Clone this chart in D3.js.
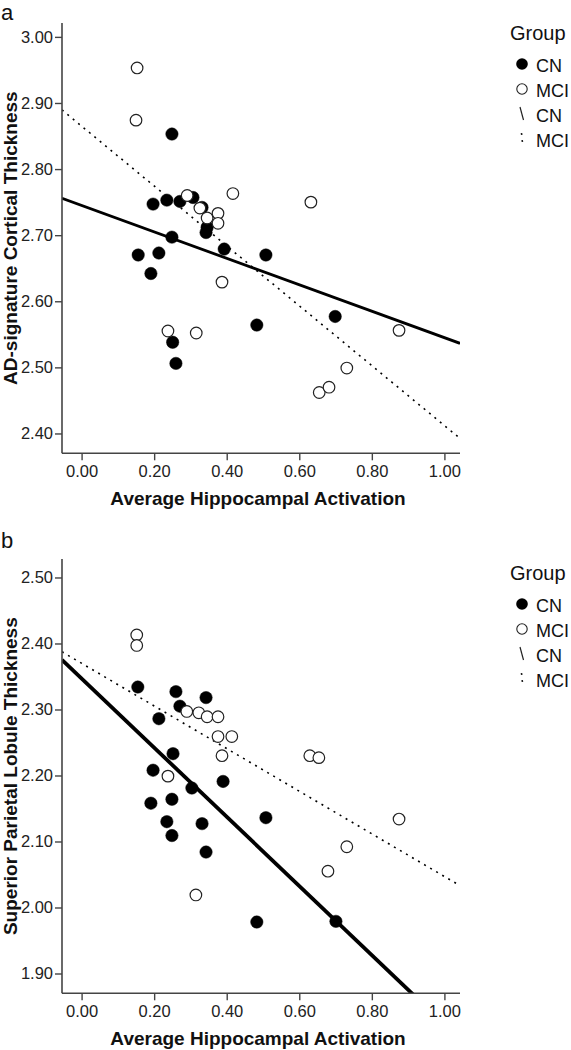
<!DOCTYPE html>
<html>
<head>
<meta charset="utf-8">
<script src="https://cdn.jsdelivr.net/npm/d3@7"></script>
<style>
  html, body { margin: 0; padding: 0; background: #fff; }
  svg { display: block; font-family: Arial, "Liberation Sans", Helvetica, sans-serif; }
</style>
</head>
<body>
<svg id="chart" width="571" height="1050"></svg>
<script>
// ---------- DATA ----------
const groups = ["CN", "MCI"];
const xTicks = [0.00, 0.20, 0.40, 0.60, 0.80, 1.00];
const xLabel = "Average Hippocampal Activation";
const legendTitle = "Group";
const legendItems = ["CN", "MCI", "CN", "MCI"];

// Panel a: AD-signature Cortical Thickness
const aTicks = [2.40, 2.50, 2.60, 2.70, 2.80, 2.90, 3.00];
const aCN_x = [0.249, 0.197, 0.235, 0.271, 0.307, 0.332, 0.346, 0.343, 0.249, 0.393, 0.156, 0.213, 0.508, 0.191, 0.251, 0.260, 0.483, 0.699];
const aCN_y = [2.853, 2.747, 2.753, 2.751, 2.757, 2.742, 2.712, 2.704, 2.697, 2.679, 2.670, 2.673, 2.670, 2.642, 2.538, 2.506, 2.564, 2.577];
const aMCI_x = [0.153, 0.150, 0.291, 0.326, 0.346, 0.376, 0.376, 0.417, 0.632, 0.387, 0.238, 0.316, 0.875, 0.731, 0.655, 0.682];
const aMCI_y = [2.953, 2.874, 2.760, 2.741, 2.726, 2.733, 2.718, 2.763, 2.750, 2.629, 2.555, 2.552, 2.556, 2.499, 2.462, 2.470];
const aFit_intercept = [2.745, 2.865]; // CN, MCI
const aFit_slope = [-0.200, -0.453];

// Panel b: Superior Parietal Lobule Thickness
const bTicks = [1.90, 2.00, 2.10, 2.20, 2.30, 2.40, 2.50];
const bCN_x = [0.155, 0.260, 0.271, 0.343, 0.213, 0.252, 0.197, 0.304, 0.390, 0.191, 0.249, 0.508, 0.235, 0.332, 0.249, 0.343, 0.483, 0.701];
const bCN_y = [2.334, 2.327, 2.305, 2.318, 2.286, 2.233, 2.208, 2.181, 2.191, 2.158, 2.164, 2.136, 2.130, 2.127, 2.109, 2.084, 1.978, 1.979];
const bMCI_x = [0.152, 0.152, 0.290, 0.323, 0.346, 0.376, 0.376, 0.414, 0.387, 0.629, 0.654, 0.238, 0.315, 0.875, 0.731, 0.679];
const bMCI_y = [2.413, 2.397, 2.297, 2.295, 2.289, 2.289, 2.259, 2.259, 2.230, 2.230, 2.227, 2.199, 2.019, 2.134, 2.092, 2.055];
const bFit_intercept = [2.347, 2.370];
const bFit_slope = [-0.524, -0.323];

// ---------- DRAW ----------
const svg = d3.select("#chart");
const axisColor = "#444";

function drawPanel(p) {
  const g = svg.append("g");
  const left = 62, right = 460, plotTop = p.plotTop, plotBottom = p.plotBottom;
  const x = d3.scaleLinear().domain([-0.054, 1.043]).range([left, right]);
  const y = d3.scaleLinear().domain(p.yDomain).range([plotBottom, plotTop]);

  // panel letter
  g.append("text").attr("x", 1).attr("y", p.letterY).attr("font-size", 22).attr("fill", "#111").text(p.letter);

  const clipId = "clip" + p.letter;
  g.append("clipPath").attr("id", clipId).append("rect")
    .attr("x", left).attr("y", plotTop).attr("width", right - left).attr("height", plotBottom - plotTop);

  // fit lines
  const lines = g.append("g").attr("clip-path", `url(#${clipId})`);
  groups.forEach((grp, i) => {
    const x0 = x.domain()[0], x1 = x.domain()[1];
    lines.append("line")
      .attr("x1", x(x0)).attr("y1", y(p.fitI[i] + p.fitS[i] * x0))
      .attr("x2", x(x1)).attr("y2", y(p.fitI[i] + p.fitS[i] * x1))
      .attr("stroke", "#000")
      .attr("stroke-width", grp === "CN" ? p.solidW : 1.6)
      .attr("stroke-dasharray", grp === "CN" ? null : "2,5");
  });

  const pts = g.append("g");
  pts.selectAll("circle.cn").data(p.cnX.map((v, i) => [v, p.cnY[i]])).join("circle")
    .attr("class", "cn").attr("cx", d => x(d[0])).attr("cy", d => y(d[1])).attr("r", 6.2)
    .attr("fill", "#000").attr("stroke", "#000").attr("stroke-width", 0.5);
  pts.selectAll("circle.mci").data(p.mciX.map((v, i) => [v, p.mciY[i]])).join("circle")
    .attr("class", "mci").attr("cx", d => x(d[0])).attr("cy", d => y(d[1])).attr("r", 5.8)
    .attr("fill", "#fff").attr("stroke", "#222").attr("stroke-width", 1.2);

  // axes
  const xAxis = g.append("g").attr("transform", `translate(0,${plotBottom})`)
    .call(d3.axisBottom(x).tickValues(xTicks).tickFormat(d3.format(".2f")).tickSizeOuter(0).tickSize(7).tickPadding(5));
  const yAxis = g.append("g").attr("transform", `translate(${left},0)`)
    .call(d3.axisLeft(y).tickValues(p.yTicks).tickFormat(d3.format(".2f")).tickSizeOuter(0).tickSize(7).tickPadding(2));
  [xAxis, yAxis].forEach(a => {
    a.select(".domain").attr("stroke", axisColor).attr("stroke-width", 1.6);
    a.selectAll(".tick line").attr("stroke", axisColor).attr("stroke-width", 1.4);
    a.selectAll(".tick text").attr("font-size", 16.5).attr("fill", "#222")
      .attr("font-family", 'Arial, "Liberation Sans", sans-serif');
  });
  xAxis.select(".domain").attr("d", `M${left},0H${right}`);
  yAxis.select(".domain").attr("d", `M0,${plotTop}V${plotBottom}`);

  // axis titles
  g.append("text").attr("x", 258).attr("y", plotBottom + 52)
    .attr("text-anchor", "middle").attr("font-size", 19).attr("font-weight", "bold").attr("fill", "#111")
    .text(xLabel);
  g.append("text").attr("transform", `translate(17,${(plotTop + plotBottom) / 2}) rotate(-90)`)
    .attr("text-anchor", "middle").attr("font-size", 19).attr("font-weight", "bold").attr("fill", "#111")
    .text(p.yLabel);

  // legend
  const lg = g.append("g").attr("transform", `translate(0,${p.legendTop})`);
  lg.append("text").attr("x", 510).attr("y", 0).attr("font-size", 20).attr("fill", "#111").text(legendTitle);
  legendItems.forEach((t, i) => {
    const cy = 24 + i * 25;
    if (i === 0) lg.append("circle").attr("cx", 522).attr("cy", cy).attr("r", 5.8).attr("fill", "#000");
    if (i === 1) lg.append("circle").attr("cx", 522).attr("cy", cy).attr("r", 5.2).attr("fill", "#fff").attr("stroke", "#222").attr("stroke-width", 1.1);
    if (i === 2) lg.append("line").attr("x1", 520).attr("y1", cy - 7).attr("x2", 523.5).attr("y2", cy + 6).attr("stroke", "#222").attr("stroke-width", 1.2);
    if (i === 3) lg.append("line").attr("x1", 521.5).attr("y1", cy - 6).attr("x2", 522.5).attr("y2", cy + 4).attr("stroke", "#222").attr("stroke-width", 1.6).attr("stroke-dasharray", "2,5");
    lg.append("text").attr("x", 536).attr("y", cy + 7.5).attr("font-size", 18).attr("fill", "#111").text(t);
  });
}

drawPanel({
  letter: "a", letterY: 20, plotTop: 23, plotBottom: 453.3,
  yDomain: [2.370, 3.021], yTicks: aTicks, yLabel: "AD-signature Cortical Thickness",
  cnX: aCN_x, cnY: aCN_y, mciX: aMCI_x, mciY: aMCI_y,
  fitI: aFit_intercept, fitS: aFit_slope, solidW: 2.8, legendTop: 40
});
drawPanel({
  letter: "b", letterY: 548, plotTop: 559, plotBottom: 993.3,
  yDomain: [1.870, 2.528], yTicks: bTicks, yLabel: "Superior Parietal Lobule Thickness",
  cnX: bCN_x, cnY: bCN_y, mciX: bMCI_x, mciY: bMCI_y,
  fitI: bFit_intercept, fitS: bFit_slope, solidW: 3.8, legendTop: 580
});
</script>
</body>
</html>
